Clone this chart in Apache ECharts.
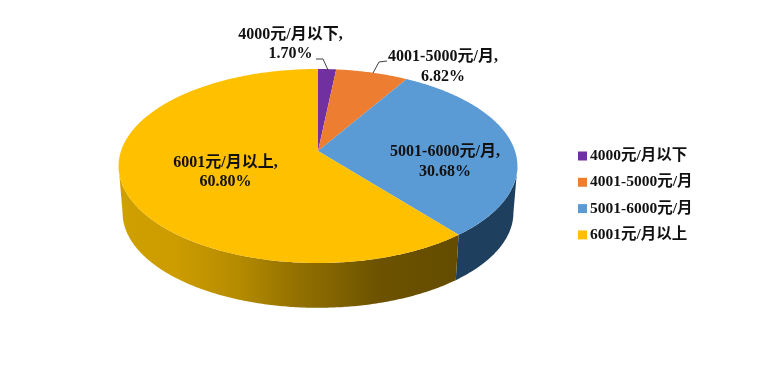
<!DOCTYPE html>
<html><head><meta charset="utf-8">
<style>html,body{margin:0;padding:0;background:#fff}#c{width:784px;height:392px}</style>
<script src="https://cdn.jsdelivr.net/npm/echarts@6/dist/echarts.min.js"></script>
</head><body><div id="c"></div>
<script>
const categories = ['4000元/月以下', '4001-5000元/月', '5001-6000元/月', '6001元/月以上'];
const shares = [1.70, 6.82, 30.68, 60.80];
const colors = ['#7030A0', '#ED7D31', '#5B9BD5', '#FFC000'];

// Perspective disc: apex, half axes and tilt of the projected circle
const P = {cx: 318, cy: 151, a: 197, d: 94.7, k: 0.1547, depth: 47, shrink: 0.98};
const FONT = '"Liberation Serif","Noto Sans CJK SC",serif';
const LABELS = [
  {x: 290.5, y: 44.5, line: [[316, 59], [323, 59], [328, 70]]},
  {x: 443, y: 67, line: [[387, 61], [379, 62], [373, 73]]},
  {x: 445, y: 162},
  {x: 225.5, y: 172.5}
];

const total = shares.reduce((s, v) => s + v, 0);
const starts = [];
shares.reduce((s, v, i) => (starts[i] = s, s + v), 0);
const angle = p => p / total * Math.PI * 2;

function rim(t, bottom) {
  const u = Math.sin(t), v = Math.cos(t), w = 1 + P.k * v;
  const x = P.a * u / w, y = -P.d * v / w;
  return bottom
    ? [P.cx + x * P.shrink, P.cy + y * P.shrink + P.depth]
    : [P.cx + x, P.cy + y];
}
function arc(t0, t1, bottom) {
  const n = Math.max(2, Math.ceil((t1 - t0) / 0.01)), pts = [];
  for (let i = 0; i <= n; i++) pts.push(rim(t0 + (t1 - t0) * i / n, bottom));
  return pts;
}

const wallLimit = [Math.PI * 0.55, Math.PI * 1.45];
function wallFill(i) {
  if (i === 3) return new echarts.graphic.LinearGradient(0, 0, 1, 0, [
    {offset: 0, color: '#CFA000'}, {offset: 0.17, color: '#CC9C00'},
    {offset: 0.35, color: '#B58B00'}, {offset: 0.53, color: '#927000'},
    {offset: 0.77, color: '#6C5200'}, {offset: 1, color: '#644C00'}]);
  return '#1F3F5F';
}

const wallSeries = {
  type: 'custom', coordinateSystem: 'none', silent: true, name: 'walls',
  data: shares.map((v, i) => [i]),
  renderItem(params, api) {
    const i = api.value(0);
    const t0 = Math.max(angle(starts[i]), wallLimit[0]);
    const t1 = Math.min(angle(starts[i] + shares[i]), wallLimit[1]);
    if (t1 <= t0) return {type: 'group', children: []};
    return {type: 'polygon',
      shape: {points: arc(t0, t1, false).concat(arc(t0, t1, true).reverse())},
      style: {fill: wallFill(i)}};
  }
};

const topSeries = categories.map((name, i) => ({
  type: 'custom', coordinateSystem: 'none', silent: true, name,
  itemStyle: {color: colors[i]},
  data: [[shares[i]]],
  renderItem() {
    const t0 = angle(starts[i]), t1 = angle(starts[i] + shares[i]);
    return {type: 'polygon',
      shape: {points: [[P.cx, P.cy]].concat(arc(t0, t1, false))},
      style: {fill: colors[i]}};
  }
}));

const labelSeries = {
  type: 'custom', coordinateSystem: 'none', silent: true, name: 'labels', z: 5,
  data: shares.map((v, i) => [i, v]),
  renderItem(params, api) {
    const i = api.value(0), L = LABELS[i], children = [];
    if (L.line) children.push({type: 'polyline', shape: {points: L.line},
      style: {fill: null, stroke: '#404040', lineWidth: 1}});
    children.push({type: 'text', x: L.x, y: L.y, style: {
      text: categories[i] + ',\n' + api.value(1).toFixed(2) + '%',
      font: 'bold 16px ' + FONT, fill: '#111', align: 'center',
      verticalAlign: 'middle', lineHeight: 19.5}});
    return {type: 'group', children};
  }
};

const chart = echarts.init(document.getElementById('c'), null, {renderer: 'canvas'});
chart.setOption({
  animation: false,
  backgroundColor: '#fff',
  legend: {
    orient: 'vertical', left: 573, top: 142, itemWidth: 9, itemHeight: 9, itemGap: 8.3,
    icon: 'rect', data: categories, selectedMode: false,
    textStyle: {fontFamily: FONT, fontWeight: 'bold', fontSize: 15.5, color: '#111', padding: [0, 0, 0, -2], lineHeight: 18}
  },
  series: [wallSeries, ...topSeries, labelSeries]
});
</script></body></html>
